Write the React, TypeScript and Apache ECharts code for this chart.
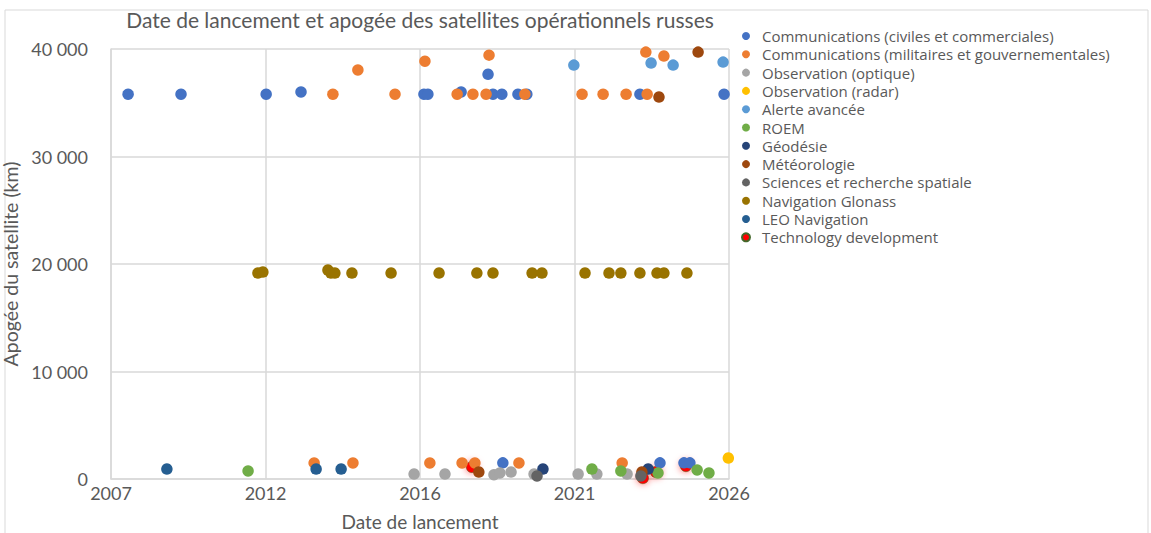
import React, { useEffect, useRef } from "react";
import * as echarts from "echarts";

const TITLE = "Date de lancement et apogée des satellites opérationnels russes";
const X_NAME = "Date de lancement";
const Y_NAME = "Apogée du satellite (km)";
const TICK_LABELS = ["2007", "2012", "2016", "2021", "2026"];
const X_START = 2007.5;
const X_STEP = 4.7;

// [decimal year, apogee km]
const civiles: [number, number][] = [
  [2008.02, 35800], [2009.63, 35800], [2012.22, 35800], [2013.28, 36000],
  [2017.02, 35800], [2017.14, 35800], [2018.15, 36000], [2018.97, 37650],
  [2019.12, 35800], [2019.39, 35800], [2019.88, 35800], [2020.15, 35800],
  [2023.59, 35800], [2026.15, 35800],
  [2019.42, 1500], [2024.2, 1500], [2024.93, 1500], [2025.11, 1500],
];
const militaires: [number, number][] = [
  [2014.25, 35800], [2015.01, 38050], [2016.14, 35800], [2017.05, 38870],
  [2018.03, 35800], [2018.51, 35800], [2018.91, 35800], [2019.0, 39430],
  [2020.09, 35800], [2021.83, 35800], [2022.47, 35800], [2023.17, 35800],
  [2023.77, 39710], [2023.81, 35800], [2024.32, 39340],
  [2013.68, 1490], [2014.86, 1490], [2017.2, 1490], [2018.18, 1490],
  [2018.57, 1490], [2019.91, 1490], [2023.05, 1490],
];
const optique: [number, number][] = [
  [2016.72, 465], [2017.66, 465], [2019.15, 400], [2019.33, 560],
  [2019.67, 650], [2020.37, 465], [2021.71, 465], [2022.28, 465], [2023.2, 465],
];
const radar: [number, number][] = [[2026.28, 1950]];
const alerte: [number, number][] = [
  [2021.58, 38500], [2023.93, 38690], [2024.6, 38500], [2026.12, 38780],
];
const roem: [number, number][] = [
  [2011.67, 745], [2022.13, 930], [2023.01, 745], [2024.14, 560],
  [2025.33, 840], [2025.69, 560],
];
const geodesie: [number, number][] = [[2020.64, 930], [2023.84, 930]];
const meteo: [number, number][] = [
  [2025.36, 39710], [2024.17, 35530], [2018.69, 650], [2023.65, 650],
];
const sciences: [number, number][] = [[2020.46, 280], [2023.62, 280]];
const glonass: [number, number][] = [
  [2011.97, 19160], [2012.12, 19250], [2014.1, 19440], [2014.19, 19160],
  [2014.31, 19160], [2014.83, 19160], [2016.02, 19160], [2017.48, 19160],
  [2018.63, 19160], [2019.12, 19160], [2020.31, 19160], [2020.61, 19160],
  [2021.92, 19160], [2022.65, 19160], [2023.01, 19160], [2023.59, 19160],
  [2024.11, 19160], [2024.32, 19160], [2025.02, 19160],
];
const leoNav: [number, number][] = [[2009.2, 930], [2013.74, 930], [2014.5, 930]];
const techDev: [number, number][] = [
  [2018.48, 1120], [2023.68, 90], [2024.08, 650], [2024.99, 1210],
];

const SERIES_NAMES = [
  "Communications (civiles et commerciales)",
  "Communications (militaires et gouvernementales)",
  "Observation (optique)",
  "Observation (radar)",
  "Alerte avancée",
  "ROEM",
  "Géodésie",
  "Météorologie",
  "Sciences et recherche spatiale",
  "Navigation Glonass",
  "LEO Navigation",
  "Technology development",
];
const SERIES_DATA = [
  civiles, militaires, optique, radar, alerte, roem,
  geodesie, meteo, sciences, glonass, leoNav, techDev,
];
const COLORS = [
  "#4472C4", "#ED7D31", "#A5A5A5", "#FFC000", "#5B9BD5", "#70AD47",
  "#264478", "#9E480E", "#636363", "#997300", "#255E91", "#FF0000",
];

const FONT = "Lato";
const LEGEND_FONT = "Open Sans";
const TEXT = "#595959";
const toAxis = (yr: number) => (yr - X_START) / X_STEP;

export default function App() {
  const ref = useRef<HTMLDivElement>(null);
  useEffect(() => {
    if (!ref.current) return;
    const chart = echarts.init(ref.current, undefined, { renderer: "svg" });
    const series = SERIES_NAMES.map((name, i) => {
      const isTech = i === 11;
      return {
        name,
        type: "scatter",
        symbol: "circle",
        symbolSize: 11.5,
        z: isTech ? 1 : 2,
        data: SERIES_DATA[i].map(([yr, v]) => [toAxis(yr), v]),
        itemStyle: isTech
          ? {
              color: COLORS[i],
              opacity: 1,
              borderColor: "#43682B",
              borderWidth: 0.5,
              shadowBlur: 7,
              shadowColor: "rgba(255,0,0,0.6)",
            }
          : { color: COLORS[i], opacity: 1 },
      };
    });
    chart.setOption({
      animation: false,
      textStyle: { fontFamily: FONT },
      graphic: [
        {
          type: "rect",
          shape: { x: 5, y: 10, width: 1143, height: 540 },
          style: { fill: "none", stroke: "#d9d9d9", lineWidth: 1 },
          silent: true,
        },
        {
          type: "text",
          x: 420,
          y: 19,
          style: {
            text: TITLE,
            fill: TEXT,
            font: `21px ${FONT}`,
            textAlign: "center",
            textVerticalAlign: "middle",
          },
        },
      ],
      grid: {
        left: 111,
        right: 422,
        top: 49,
        bottom: 54,
        containLabel: false,
        outerBoundsMode: "none",
      },
      legend: {
        orient: "vertical",
        left: 736,
        top: 22,
        itemWidth: 8,
        itemHeight: 8,
        itemGap: 0.3,
        icon: "circle",
        data: SERIES_NAMES,
        textStyle: {
          fontFamily: LEGEND_FONT,
          fontSize: 15,
          color: TEXT,
          lineHeight: 18,
          padding: [0, 0, 0, 7],
        },
      },
      xAxis: {
        type: "value",
        min: 0,
        max: 4,
        interval: 1,
        name: X_NAME,
        nameLocation: "middle",
        nameGap: 33,
        nameTextStyle: { fontSize: 19, color: TEXT, fontFamily: FONT },
        axisLine: { show: true, lineStyle: { color: "#d9d9d9", width: 1.5 } },
        axisTick: { show: false },
        axisLabel: {
          formatter: (v: number) => TICK_LABELS[Math.round(v)] ?? "",
          fontSize: 18,
          color: TEXT,
          margin: 5,
          fontFamily: FONT,
        },
        splitLine: { show: true, lineStyle: { color: "#d9d9d9", width: 1.5 } },
      },
      yAxis: {
        type: "value",
        min: 0,
        max: 40000,
        interval: 10000,
        name: Y_NAME,
        nameLocation: "middle",
        nameGap: 82,
        nameRotate: 90,
        nameTextStyle: { fontSize: 19.5, color: TEXT, fontFamily: FONT },
        axisLine: { show: true, lineStyle: { color: "#d9d9d9", width: 1.5 } },
        axisTick: { show: false },
        axisLabel: {
          formatter: (v: number) => String(v).replace(/\B(?=(\d{3})+(?!\d))/g, " "),
          fontSize: 18,
          color: TEXT,
          margin: 23,
          fontFamily: FONT,
        },
        splitLine: { show: true, lineStyle: { color: "#d9d9d9", width: 1.5 } },
      },
      series,
    });
    return () => chart.dispose();
  }, []);
  return <div ref={ref} style={{ width: 1151, height: 533, position: "absolute", left: 0, top: 0 }} />;
}
